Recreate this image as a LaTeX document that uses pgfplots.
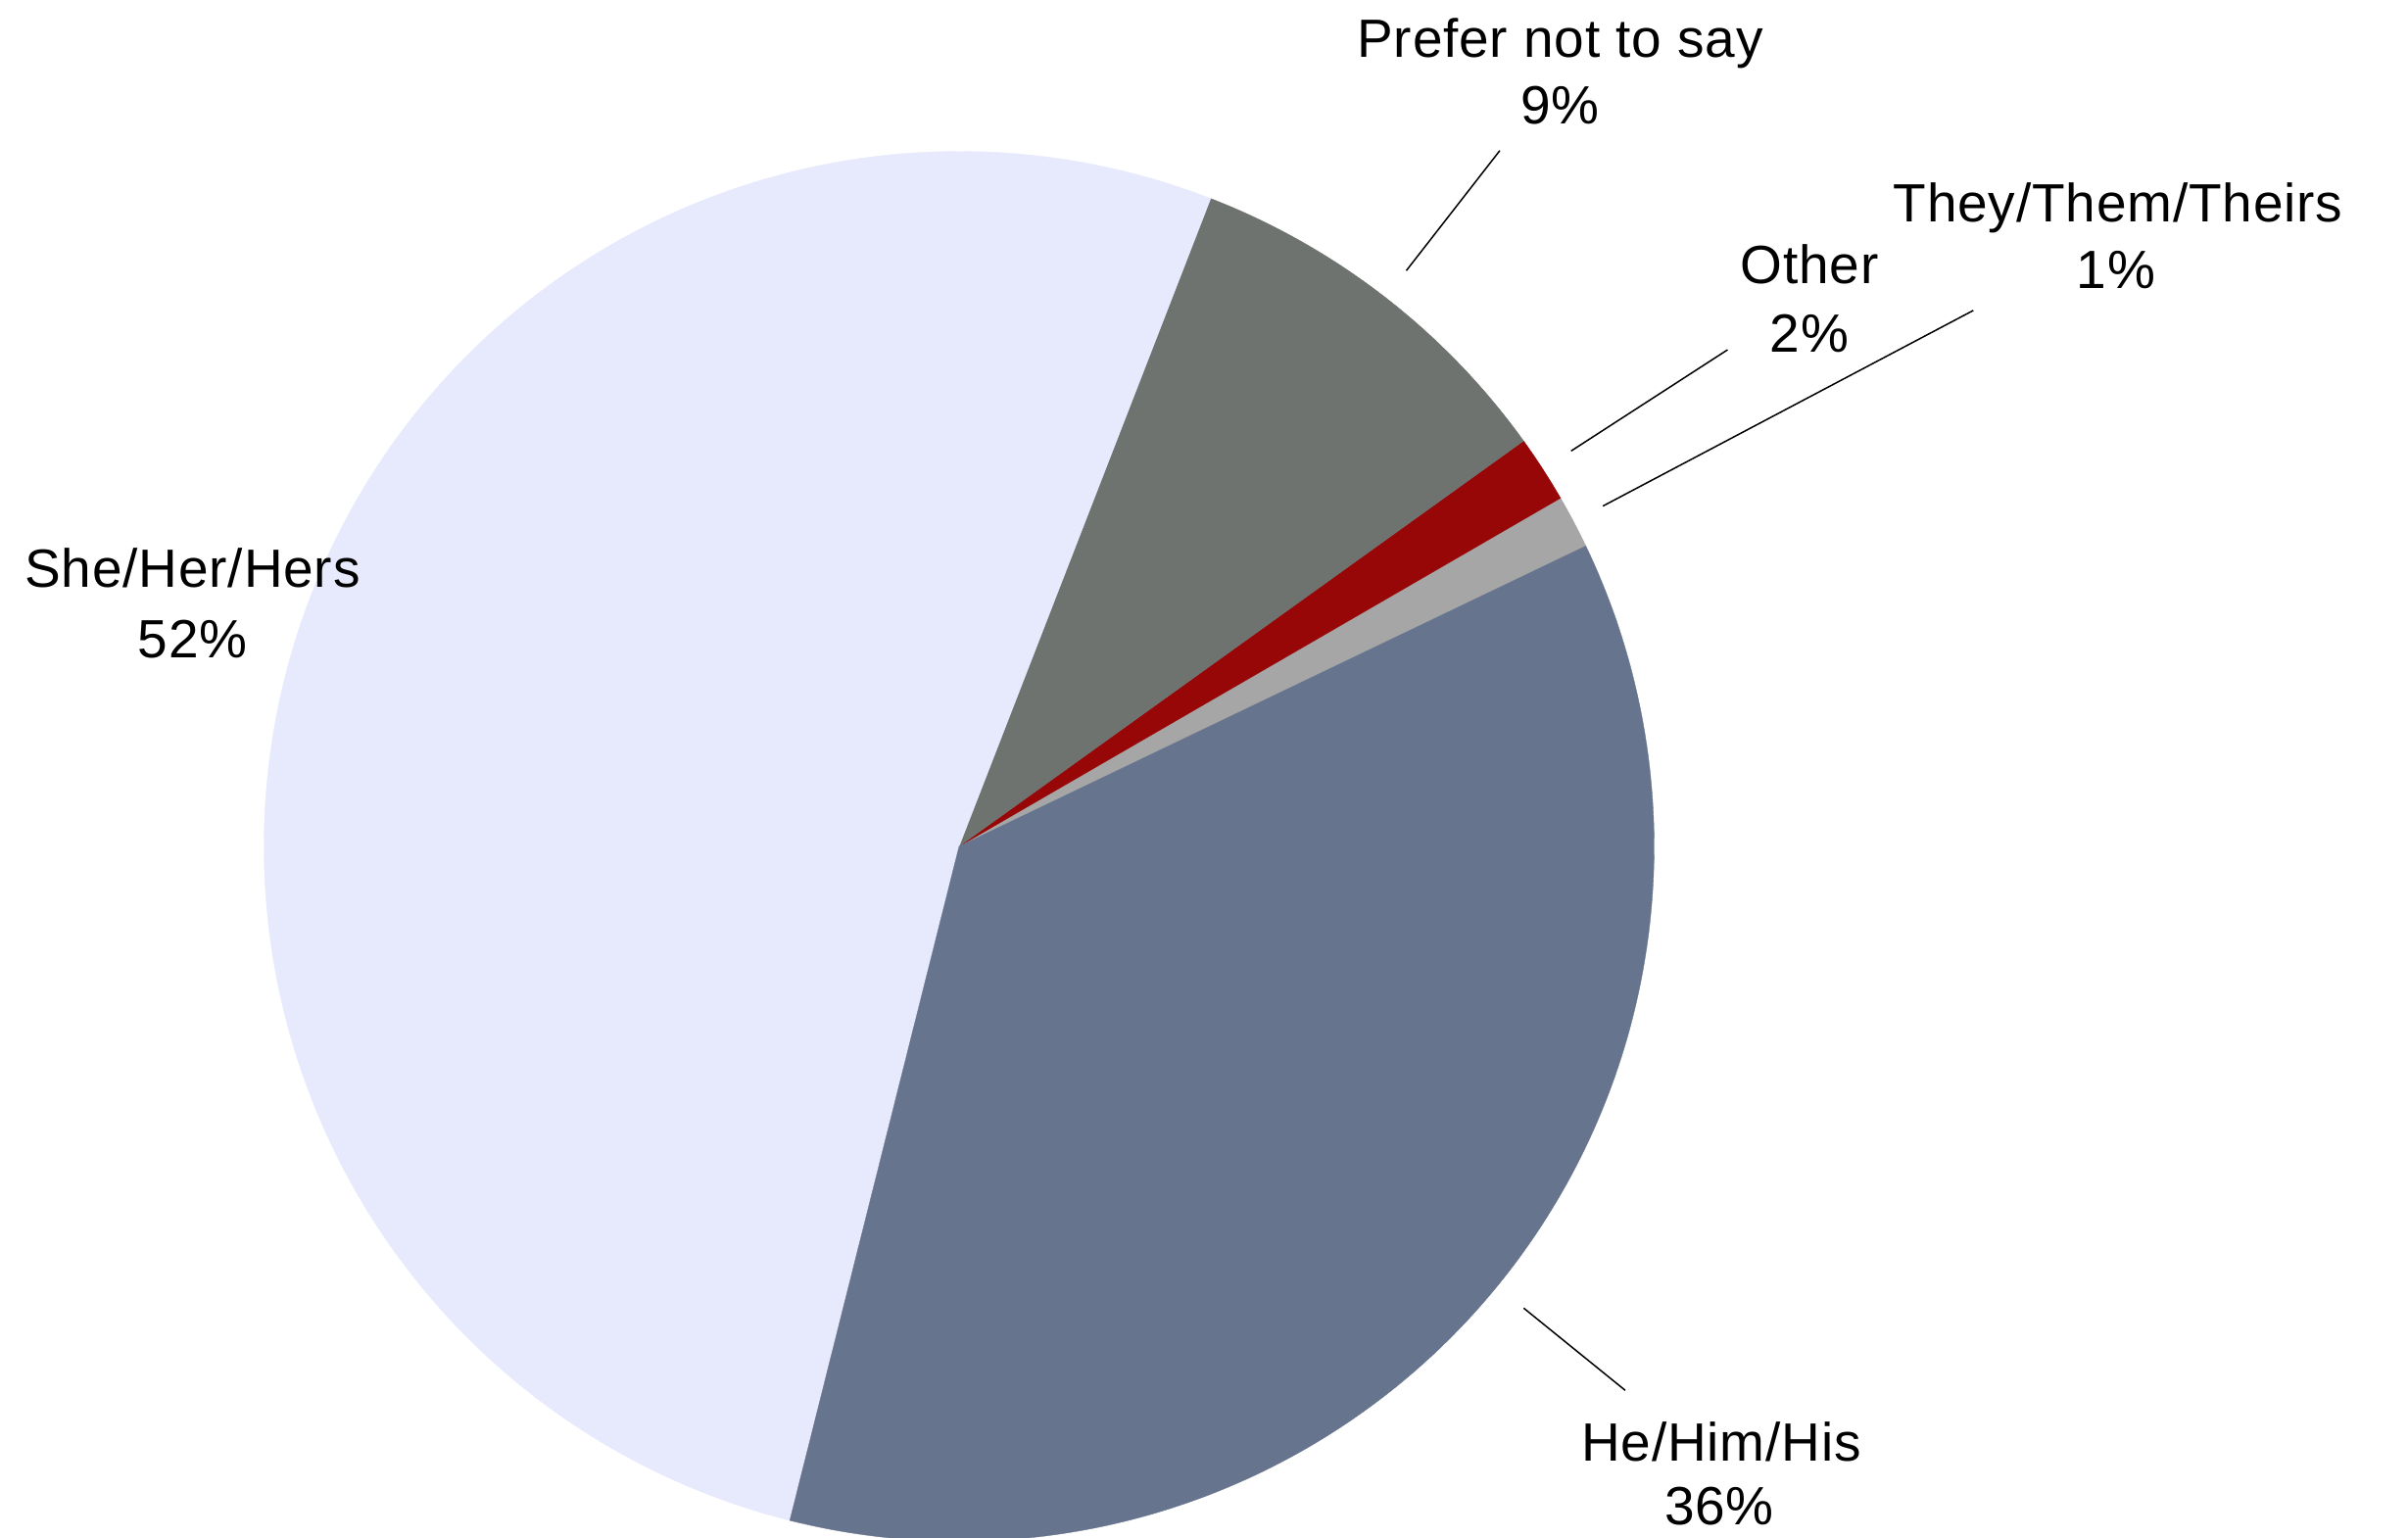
\documentclass[border=0pt]{standalone}
\usepackage{pgfplots}
\usepackage{pgfplotstable}
\pgfplotsset{compat=1.18}
\usepackage{fontspec}
\setmainfont[LetterSpace=1.5]{Liberation Sans}

\definecolor{cShe}{RGB}{231,233,253}
\definecolor{cHe}{RGB}{102,116,142}
\definecolor{cThey}{RGB}{166,166,166}
\definecolor{cOther}{RGB}{152,7,7}
\definecolor{cPrefer}{RGB}{110,115,112}

\tikzset{lbl/.style={anchor=base, inner sep=0pt, font=\fontsize{16.5}{20}\selectfont}}

% share of each group, in percent, in counter-clockwise order from the start angle
\pgfplotstableread{
group  share
They   1.24
Other  1.56
Prefer 9.19
She    51.98
He     36.03
}\pietable

\def\startangle{25.61}
\pgfplotstablegetelem{0}{share}\of\pietable \let\vA\pgfplotsretval
\pgfplotstablegetelem{1}{share}\of\pietable \let\vB\pgfplotsretval
\pgfplotstablegetelem{2}{share}\of\pietable \let\vC\pgfplotsretval
\pgfplotstablegetelem{3}{share}\of\pietable \let\vD\pgfplotsretval
\pgfplotstablegetelem{4}{share}\of\pietable \let\vE\pgfplotsretval
\pgfmathsetmacro\aA{\startangle}
\pgfmathsetmacro\aB{\aA+3.6*\vA}
\pgfmathsetmacro\aC{\aB+3.6*\vB}
\pgfmathsetmacro\aD{\aC+3.6*\vC}
\pgfmathsetmacro\aE{\aD+3.6*\vD}
\pgfmathsetmacro\aF{\aE+3.6*\vE}

\def\cx{979}
\def\cy{706}
\def\rr{709.5}

\begin{document}
\begin{tikzpicture}
\begin{axis}[
  scale only axis,
  width=737.4pt, height=471pt,
  xmin=0, xmax=2458, ymin=0, ymax=1570,
  hide axis,
  clip=true,
]
\coordinate (SW) at (axis cs:0,0);
\coordinate (NE) at (axis cs:2458,1570);

\addplot[fill=cThey, draw=cThey, line width=0.1pt, domain=\aA:\aB, samples=20, variable=\t]
  ({\cx+\rr*cos(\t)},{\cy+\rr*sin(\t)}) -- (axis cs:\cx,\cy) -- cycle;
\addplot[fill=cOther, draw=cOther, line width=0.1pt, domain=\aB:\aC, samples=20, variable=\t]
  ({\cx+\rr*cos(\t)},{\cy+\rr*sin(\t)}) -- (axis cs:\cx,\cy) -- cycle;
\addplot[fill=cPrefer, draw=cPrefer, line width=0.1pt, domain=\aC:\aD, samples=60, variable=\t]
  ({\cx+\rr*cos(\t)},{\cy+\rr*sin(\t)}) -- (axis cs:\cx,\cy) -- cycle;
\addplot[fill=cShe, draw=cShe, line width=0.1pt, domain=\aD:\aE, samples=200, variable=\t]
  ({\cx+\rr*cos(\t)},{\cy+\rr*sin(\t)}) -- (axis cs:\cx,\cy) -- cycle;
\addplot[fill=cHe, draw=cHe, line width=0.1pt, domain=\aE:\aF, samples=160, variable=\t]
  ({\cx+\rr*cos(\t)},{\cy+\rr*sin(\t)}) -- (axis cs:\cx,\cy) -- cycle;

% leader lines
\addplot[black, line width=0.45pt] coordinates {(1530.9,1416.2) (1435.5,1293.7)};
\addplot[black, line width=0.45pt] coordinates {(1763.4,1212.9) (1603.7,1109.6)};
\addplot[black, line width=0.45pt] coordinates {(2014.3,1253.1) (1636.2,1053.4)};
\addplot[black, line width=0.45pt] coordinates {(1555.3,234.7) (1659,150.7)};

% labels
\node[lbl] at (axis cs:1592.5,1511.7) {Prefer not to say};
\node[lbl] at (axis cs:1592.5,1443) {9\%};
\node[lbl] at (axis cs:2162,1343.3) {They/Them/Theirs};
\node[lbl] at (axis cs:2160,1275) {1\%};
\node[lbl] at (axis cs:1847,1280) {Other};
\node[lbl] at (axis cs:1847,1210) {2\%};
\node[lbl] at (axis cs:196.5,970) {She/Her/Hers};
\node[lbl] at (axis cs:196.5,898.3) {52\%};
\node[lbl] at (axis cs:1757,78.3) {He/Him/His};
\node[lbl] at (axis cs:1755,13.3) {36\%};
\end{axis}
\pgfresetboundingbox
\path (SW) rectangle (NE);
\end{tikzpicture}
\end{document}
